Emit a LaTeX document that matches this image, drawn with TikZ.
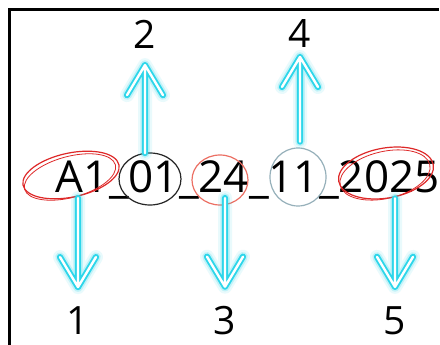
\documentclass[tikz,border=0pt]{standalone}
\usepackage{fontspec}
\setmainfont{Open Sans}
\usetikzlibrary{calc}
\definecolor{arrc}{RGB}{45,214,234}
\definecolor{redc}{RGB}{222,40,40}
\definecolor{salmon}{RGB}{236,112,100}
\definecolor{greyblue}{RGB}{150,176,186}
\tikzset{
  seg/.style={inner sep=0pt, outer sep=0pt, anchor=base west, font=\fontsize{44}{44}\selectfont},
  lab/.style={inner sep=0pt, outer sep=0pt, font=\fontsize{39}{39}\selectfont},
  arrglowA/.style={draw=arrc, line width=14pt, opacity=0.10, line cap=round, line join=round},
  arrglowB/.style={draw=arrc, line width=9.5pt, opacity=0.22, line cap=round, line join=round},
  arrline/.style={draw=arrc, line width=6.2pt, line cap=round, line join=round},
  arrcore/.style={draw=white, line width=2.4pt, line cap=round, line join=round},
  ring/.style={line width=1.2pt}
}
\newcommand\garrow[3]{%
  \draw[arrglowA] #1 -- #2 ++(-18,#3) -- #2 -- ++(18,#3);
  \draw[arrglowB] #1 -- #2 ++(-18,#3) -- #2 -- ++(18,#3);
  \draw[arrline] #1 -- #2 ++(-18,#3) -- #2 -- ++(18,#3);
  \draw[arrcore] #1 -- #2 ++(-18,#3) -- #2 -- ++(18,#3);
}
\begin{document}
\begin{tikzpicture}[x=1pt,y=-1pt]
\useasboundingbox (0,0) rectangle (440,345);
\fill[white] (0,0) rectangle (440,345);
\draw[line width=2.5pt] (9.7,345) -- (9.7,9.5) -- (439,9.5);
% code text
\node[seg] (sA) at (56,193) {A1};
\node[seg] (u1) at (sA.base east) {\_};
\node[seg] (s01) at (u1.base east) {01};
\node[seg] (u2) at (s01.base east) {\_};
\node[seg] (s24) at (u2.base east) {24};
\node[seg] (u3) at (s24.base east) {\_};
\node[seg] (s11) at (u3.base east) {11};
\node[seg] (u4) at (s11.base east) {\_};
\node[seg] (s2025) at (u4.base east) {2025};
% rings
\draw[ring, redc, rotate around={12:(71,175)}] (71,175) ellipse [x radius=49, y radius=22];
\draw[ring, redc, line width=0.8pt, rotate around={15:(70,177)}] (70,177) ellipse [x radius=47, y radius=20.5];
\draw[ring, black!85] (150,179) ellipse [x radius=31, y radius=26];
\draw[ring, salmon] (220,180) ellipse [x radius=28, y radius=25];
\draw[ring, greyblue] (298,177) ellipse [x radius=28, y radius=29];
\draw[ring, redc, rotate around={10:(386,173)}] (386,173) ellipse [x radius=48, y radius=25];
\draw[ring, redc, line width=0.8pt, rotate around={13:(385,175)}] (385,175) ellipse [x radius=46, y radius=23.5];
% labels
\node[lab] (l2) at (145,34) {2};
\node[lab] (l4) at (300,34) {4};
\node[lab] (l1) at (78,321) {1};
\node[lab] (l3) at (225,321) {3};
\node[lab] (l5) at (395,321) {5};
% arrows
\coordinate (b2) at ($(l2 |- s01.north)+(0,-8)$);
\coordinate (t2) at ($(l2.south)+(0,17)$);
\coordinate (b4) at ($(l4 |- s11.north)+(0,-20)$);
\coordinate (t4) at ($(l4.south)+(0,9)$);
\coordinate (b1) at ($(l1 |- sA.south)+(0,5)$);
\coordinate (t1) at ($(l1.north)+(0,-20)$);
\coordinate (b3) at ($(l3 |- s24.south)+(0,5)$);
\coordinate (t3) at ($(l3.north)+(0,-20)$);
\coordinate (b5) at ($(l5 |- s2025.south)+(0,5)$);
\coordinate (t5) at ($(l5.north)+(0,-20)$);
\garrow{(b2)}{(t2)}{30}
\garrow{(b4)}{(t4)}{30}
\garrow{(b1)}{(t1)}{-30}
\garrow{(b3)}{(t3)}{-30}
\garrow{(b5)}{(t5)}{-30}
\end{tikzpicture}
\end{document}
